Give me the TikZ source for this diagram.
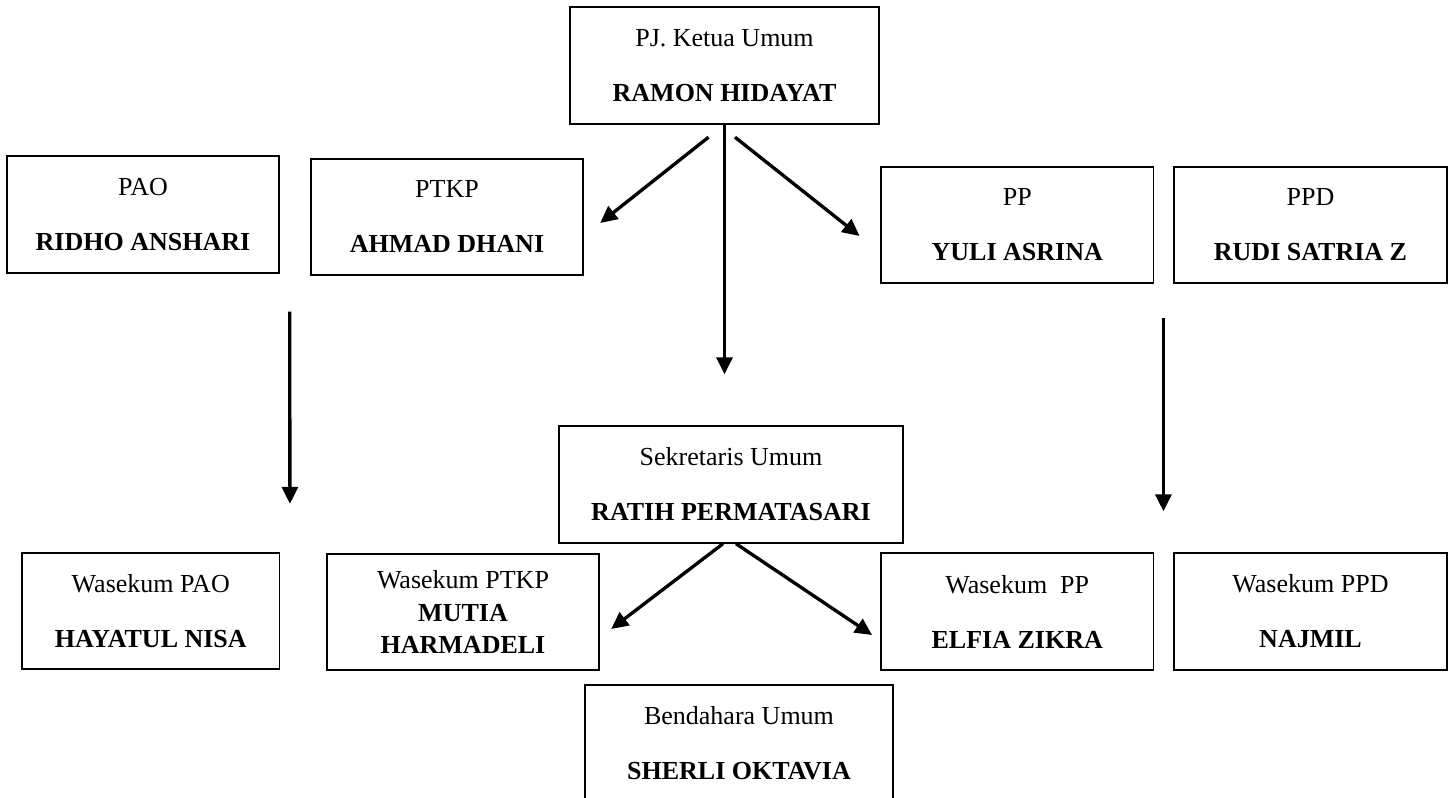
\documentclass[tikz,border=0pt]{standalone}
\usepackage{fontspec}
\setmainfont{Liberation Serif}
\usetikzlibrary{arrows.meta}
\tikzstyle{box} = [rectangle, draw=black, line width=1.1pt, minimum width=5.45cm, minimum height=2.33cm, inner sep=0pt, align=center, font=\fontsize{14.8pt}{18.5pt}\selectfont]
\tikzstyle{arrow} = [line width=1.9pt,-{Triangle[length=0.34cm,width=0.32cm]}]

\begin{document}
\begin{tikzpicture}[x=0.02cm,y=-0.02cm]
\clip (0,0) rectangle (1454,798);
% top row
\node[box,minimum width=6.18cm] (ketua) at (724.5,65.5) {PJ. Ketua Umum\\[12.8pt]\textbf{RAMON HIDAYAT}};
\node[box] (pao) at (143,214.5) {PAO\\[12.8pt]\textbf{RIDHO ANSHARI}};
\node[box] (ptkp) at (447,217) {PTKP\\[12.8pt]\textbf{AHMAD DHANI}};
\node[box] (pp) at (1017.25,225) {PP\\[12.8pt]\textbf{YULI ASRINA}};
\node[box] (ppd) at (1310.5,225) {PPD\\[12.8pt]\textbf{RUDI SATRIA Z}};
% bottom row
\node[box,minimum width=6.88cm] (sekum) at (731,484.5) {Sekretaris Umum\\[12.8pt]\textbf{RATIH PERMATASARI}};
\node[box,minimum width=5.15cm] (wpao) at (150.75,611) {Wasekum PAO\\[12.8pt]\textbf{HAYATUL NISA}};
\node[box] (wptkp) at (463,612) {Wasekum PTKP\\\textbf{MUTIA}\\\textbf{HARMADELI}};
\node[box] (wpp) at (1017.25,611.5) {Wasekum\ \ PP\\[12.8pt]\textbf{ELFIA ZIKRA}};
\node[box] (wppd) at (1310.5,611.5) {Wasekum PPD\\[12.8pt]\textbf{NAJMIL}};
\node[box,minimum width=6.16cm] (bend) at (739,743.5) {Bendahara Umum\\[12.8pt]\textbf{SHERLI OKTAVIA}};

\draw[arrow] ([xshift=-0.32cm,yshift=-0.25cm]ketua.south)--([xshift=0.32cm,yshift=-0.12cm]ptkp.east);
\draw[arrow] ([xshift=0.21cm,yshift=-0.25cm]ketua.south)--([xshift=-0.41cm,yshift=-0.22cm]pp.west);
\draw[arrow,shorten >=1.02cm] (ketua.south)--(ketua.south |- sekum.north);
\draw[arrow] ([xshift=0.19cm,yshift=-0.76cm]pao.south east)--([xshift=0.19cm,yshift=0.96cm]wpao.north east);
\draw[arrow] ([xshift=0.18cm,yshift=-0.68cm]pp.south east)--([xshift=0.18cm,yshift=0.82cm]wpp.north east);
\draw[arrow] ([xshift=-0.16cm]sekum.south)--([xshift=0.22cm,yshift=-0.34cm]wptkp.east);
\draw[arrow] ([xshift=0.1cm]sekum.south)--([xshift=-0.16cm,yshift=-0.47cm]wpp.west);
\end{tikzpicture}
\end{document}
